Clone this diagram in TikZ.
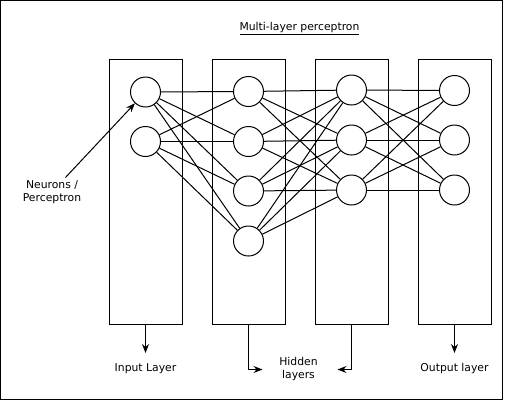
\documentclass[tikz,border=0pt]{standalone}
\usepackage{fontspec}
\setmainfont{DejaVu Sans}
\usetikzlibrary{arrows.meta}
\begin{document}
\begin{tikzpicture}[x=1pt,y=-1pt,line width=1pt,
  every node/.style={font=\fontsize{10.8}{13}\selectfont},
  layerbox/.style={draw,minimum width=73pt,minimum height=264.5pt,inner sep=0pt},
  neuron/.style={draw,circle,fill=white,minimum size=30pt,inner sep=0pt},
  lbl/.style={align=center,inner sep=0pt},
  arr/.style={-{Stealth[length=9pt,width=7pt,inset=3pt]}}]
\useasboundingbox (0,0) rectangle (507,400);
\draw (0.5,0.5) rectangle (502.5,399.5);
\node[lbl] (title) at (299.5,29) {\underline{Multi-layer perceptron}};
% layer boxes
\node[layerbox] (b1) at (145.5,191.75) {};
\node[layerbox] (b2) at (248.5,191.75) {};
\node[layerbox] (b3) at (351.5,191.75) {};
\node[layerbox] (b4) at (454.5,191.75) {};
% neurons
\node[neuron] (a1) at (145.5,92) {};
\node[neuron] (a2) at (145.5,141.5) {};
\node[neuron] (h1) at (248.5,91.5) {};
\node[neuron] (h2) at (248.5,141.5) {};
\node[neuron] (h3) at (248.5,191) {};
\node[neuron] (h4) at (248.5,241) {};
\node[neuron] (g1) at (351.5,90) {};
\node[neuron] (g2) at (351.5,140) {};
\node[neuron] (g3) at (351.5,190) {};
\node[neuron] (o1) at (454.5,90.5) {};
\node[neuron] (o2) at (454.5,140) {};
\node[neuron] (o3) at (454.5,190) {};
% connections
\foreach \s in {a1,a2}{\foreach \t in {h1,h2,h3,h4}{\draw (\s) -- (\t);}}
\foreach \s in {h1,h2,h3,h4}{\foreach \t in {g1,g2,g3}{\draw (\s) -- (\t);}}
\foreach \s in {g1,g2,g3}{\foreach \t in {o1,o2,o3}{\draw (\s) -- (\t);}}
% labels
\node[lbl] (neu) at (52,192.5) {Neurons /\\Perceptron};
\coordinate (neustart) at (65.5,177.5);
\draw[arr] (neustart) -- (a1);
\node[lbl] (inl) at (145.5,369) {Input Layer};
\node[lbl] (hid) at (298.5,369.5) {Hidden\\layers};
\node[lbl] (outl) at (454.5,369) {Output layer};
\coordinate (inend) at (145.5,353);
\coordinate (outend) at (454.5,353);
\coordinate (hidl) at (262.5,369.5);
\coordinate (hidr) at (337.5,369.5);
\draw[arr] (b1.south) -- (inend);
\draw[arr] (b4.south) -- (outend);
\draw[arr] (b2.south) |- (hidl);
\draw[arr] (b3.south) |- (hidr);
\end{tikzpicture}
\end{document}
